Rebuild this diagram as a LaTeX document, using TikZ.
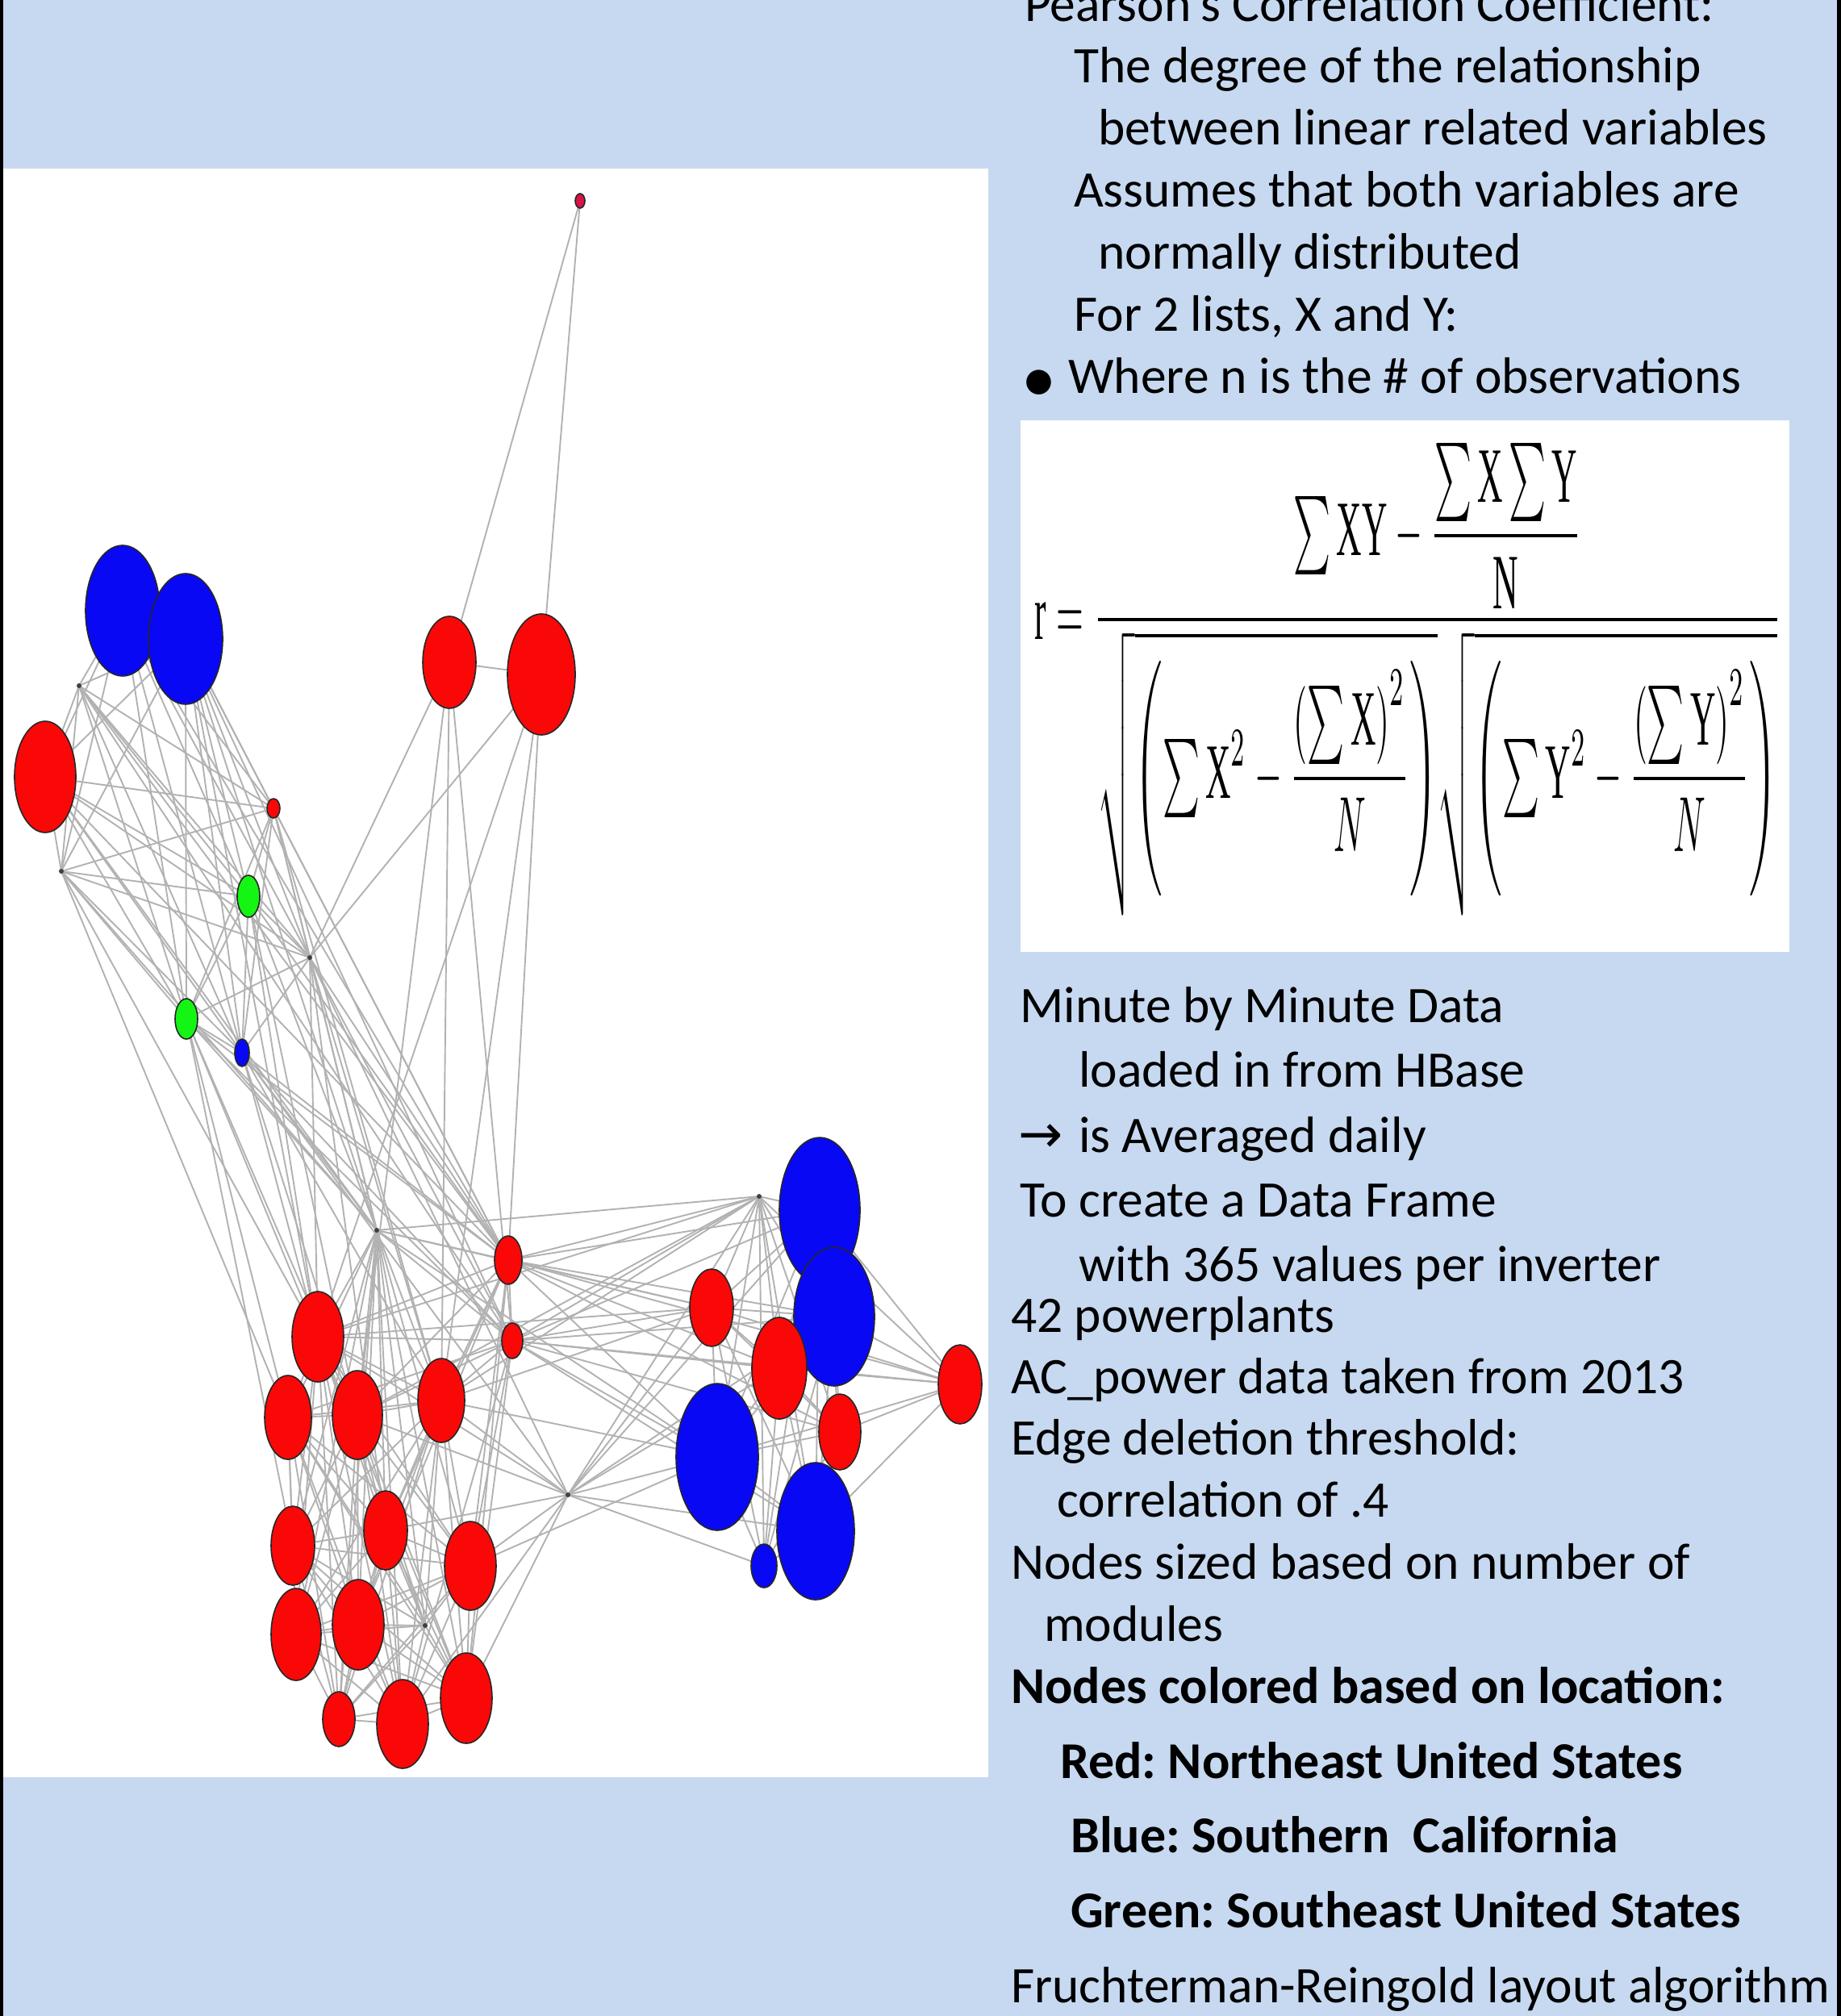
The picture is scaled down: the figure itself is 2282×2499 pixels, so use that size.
\documentclass[tikz,border=0pt]{standalone}
\usepackage{amsmath}
\usepackage{fontspec}
\usepackage{graphicx}
\setmainfont{Carlito}
\newfontfamily\tnr{Liberation Serif}
\newfontfamily\djv{DejaVu Sans}
\usetikzlibrary{shapes.geometric}
\frenchspacing
\definecolor{bgblue}{RGB}{198,217,240}
\definecolor{edgec}{RGB}{178,178,178}
\definecolor{nred}{RGB}{250,8,8}
\definecolor{nblue}{RGB}{8,8,245}
\definecolor{ngreen}{RGB}{20,245,20}
\definecolor{ncrim}{RGB}{215,20,70}
\pgfdeclarelayer{bglayer}
\pgfdeclarelayer{edgelayer}
\pgfsetlayers{bglayer,edgelayer,main}
\tikzset{
  pn/.style={ellipse, draw=black!85, line width=1.6pt, inner sep=0pt},
  rn/.style={pn, fill=nred},
  bn/.style={pn, fill=nblue},
  gn/.style={pn, fill=ngreen},
  dotn/.style={circle, fill=black!75, inner sep=0pt, minimum size=6pt},
  edge/.style={draw=edgec, line width=1.9pt},
  txt/.style={anchor=base west, inner sep=0pt, font=\fontsize{63.5pt}{63.5pt}\selectfont},
  btxt/.style={txt, font=\fontsize{64pt}{64pt}\selectfont\bfseries},
}
\newcommand\ellnode[6]{\node[#1, minimum width=#5pt, minimum height=#6pt] (#2) at (#3,#4) {};}
\newcommand\allpairs[1]{%
  \foreach \a [count=\i] in {#1}{%
    \foreach \b [count=\j] in {#1}{%
      \ifnum\i<\j \draw[edge] (\a.center) -- (\b.center);\fi
    }%
  }%
}
\begin{document}
\begin{tikzpicture}[x=1pt,y=-1pt]
\useasboundingbox (0,0) rectangle (2282,2499);
\begin{pgfonlayer}{bglayer}
  \fill[bgblue] (0,0) rectangle (2282,2499);
  \fill[black] (0,0) rectangle (4,2499);
  \fill[black] (2277,0) rectangle (2282,2499);
  \fill[white] (4,209) rectangle (1225,2203);
  \fill[white] (1265,521) rectangle (2218,1180);
\end{pgfonlayer}

% ---------- graph nodes ----------
\ellnode{pn, fill=ncrim}{t}{719}{249}{12}{18}
\ellnode{bn}{b1}{152}{757}{92}{162}
\ellnode{bn}{b2}{230}{792}{92}{162}
\ellnode{rn}{r1}{56}{963}{76}{138}
\ellnode{rn}{r2}{557}{821}{66}{114}
\ellnode{rn}{r3}{671}{836}{84}{150}
\ellnode{rn}{r4}{339}{1002}{16}{24}
\ellnode{gn}{g1}{308}{1111}{28}{52}
\ellnode{gn}{g2}{231}{1263}{28}{50}
\ellnode{bn}{b3}{300}{1305}{18}{34}
\node[dotn] (d1) at (98,850) {};
\node[dotn] (d2) at (76,1080) {};
\node[dotn] (d3) at (384,1187) {};
\node[dotn] (d4) at (467,1525) {};
\node[dotn] (d5) at (704,1853) {};
\node[dotn] (d6) at (941,1483) {};
\node[dotn] (d7) at (527,2015) {};
\ellnode{rn}{m1}{630}{1562}{34}{60}
\ellnode{rn}{m2}{635}{1662}{26}{44}
% bottom cluster
\ellnode{rn}{c1}{394}{1657}{64}{112}
\ellnode{rn}{c2}{357}{1757}{58}{104}
\ellnode{rn}{c3}{443}{1754}{62}{110}
\ellnode{rn}{c4}{547}{1736}{58}{104}
\ellnode{rn}{c5}{363}{1916}{54}{98}
\ellnode{rn}{c6}{478}{1897}{54}{98}
\ellnode{rn}{c7}{583}{1941}{64}{110}
\ellnode{rn}{c8}{367}{2026}{62}{114}
\ellnode{rn}{c9}{444}{2014}{64}{112}
\ellnode{rn}{c10}{420}{2131}{40}{68}
\ellnode{rn}{c11}{499}{2137}{64}{110}
\ellnode{rn}{c12}{578}{2105}{64}{112}
% right cluster
\ellnode{bn}{e1}{1016}{1500}{100}{180}
\ellnode{bn}{e2}{1034}{1632}{100}{172}
\ellnode{rn}{e3}{882}{1621}{54}{96}
\ellnode{rn}{e4}{966}{1696}{68}{126}
\ellnode{rn}{e5}{1041}{1775}{52}{94}
\ellnode{bn}{e6}{889}{1806}{102}{182}
\ellnode{bn}{e7}{1011}{1898}{96}{170}
\ellnode{bn}{e8}{947}{1941}{32}{54}
\ellnode{rn}{e9}{1190}{1716}{54}{98}

% ---------- edges ----------
\begin{pgfonlayer}{edgelayer}
  \allpairs{b1,b2,r1,r4,g1,g2,b3,d1,d2,d3}
  \allpairs{c1,c2,c3,c4,c5,c6,c7,c8,c9,c10,c11,c12,d4,d7}
  \allpairs{d6,e1,e2,e3,e4,e5,e6,e7,e8}
  \foreach \a/\b in {t/r2,t/r3,r2/r3,r2/d3,r2/c3,r2/c4,r2/m2,r3/d3,r3/m1,r3/c4,r3/c1,
    g2/c1,g2/c2,g2/d4,g2/m1,g2/c3,g2/m2,g2/c5,
    b3/c1,b3/d4,b3/m1,b3/m2,b3/c3,b3/c4,b3/d5,
    d3/d4,d3/m1,d3/m2,d3/c1,d3/c4,d3/d5,d3/c6,
    g1/d4,g1/m1,g1/c1,g1/c3,d2/c1,d2/c2,d2/d4,
    r4/d4,r4/m1,r4/c4,b2/m1,b2/d4,b2/m2,b1/m1,r1/m1,r1/d4,d1/m1,d1/m2,b2/c1,
    m1/m2,m1/d4,m2/d4,
    m1/c1,m1/c3,m1/c4,m1/c6,m1/c7,m1/c9,m1/c12,
    m2/c1,m2/c2,m2/c3,m2/c4,m2/c7,m2/c12,m2/c11,
    d5/c4,d5/c7,d5/c12,d5/c6,d5/c3,d5/c1,d5/c11,
    d5/e1,d5/e2,d5/e3,d5/e4,d5/e6,d5/e7,d5/e8,d5/d6,
    m1/d6,m1/e1,m1/e2,m1/e3,m1/e4,m1/e5,m1/e6,m1/e9,
    m2/d6,m2/e1,m2/e2,m2/e3,m2/e4,m2/e5,m2/e6,m2/e7,m2/e9,
    d6/c4,d6/c1,d6/d4,d6/c3,
    e9/e1,e9/e2,e9/e3,e9/e4,e9/e5,e9/e6,e9/e7,e9/d6,
    d4/e3,d4/e6,c4/e3,c4/e6,c7/e6,c1/e3}
    {\draw[edge] (\a.center) -- (\b.center);}
\end{pgfonlayer}

% ---------- text, top right ----------
\node[txt] (p0) at (1270,27) {Pearson's Correlation Coefficient:};
\node[txt] (p1) at (1331,103) {The degree of the relationship};
\node[txt] (p2) at (1361,180) {between linear related variables};
\node[txt] (p3) at (1331,257) {Assumes that both variables are};
\node[txt] (p4) at (1361,333) {normally distributed};
\node[txt] (p5) at (1331,410) {For 2 lists, X and Y:};
\node[anchor=base west, inner sep=0pt, font=\djv\fontsize{40pt}{40pt}\selectfont] (bul) at (1270,484) {●};
\node[txt] (p6) at (1324,487) {Where n is the \# of observations};

% ---------- formula ----------
\node[inner sep=0pt] (formula) at (1745.5,842.5) {\resizebox*{925pt}{585pt}{$\displaystyle
  \mbox{\tnr r} = \frac{\sum \mbox{\tnr XY} - \dfrac{\sum\mbox{\tnr X}\sum\mbox{\tnr Y}}{\mbox{\tnr N}}}
  {\sqrt{\left(\sum \mbox{\tnr X}^{2} - \dfrac{\left(\sum \mbox{\tnr X}\right)^{2}}{N}\right)}
   \sqrt{\left(\sum \mbox{\tnr Y}^{2} - \dfrac{\left(\sum\mbox{\tnr Y}\right)^{2}}{N}\right)}}$}};

% ---------- text, lower right ----------
\node[txt] (q1) at (1264,1267) {Minute by Minute Data};
\node[txt] (q2) at (1337,1347) {loaded in from HBase};
\node[anchor=base west, inner sep=0pt, font=\djv\fontsize{66pt}{66pt}\selectfont] (arr) at (1262,1428) {→};
\node[txt] (q3) at (1337,1428) {is Averaged daily};
\node[txt] (q4) at (1264,1508) {To create a Data Frame};
\node[txt] (q5) at (1337,1588) {with 365 values per inverter};
\node[txt] (q6) at (1253,1651) {42 powerplants};
\node[txt] (q7) at (1253,1727) {AC\_power data taken from 2013};
\node[txt] (q8) at (1253,1803) {Edge deletion threshold:};
\node[txt] (q9) at (1310,1880) {correlation of .4};
\node[txt] (q10) at (1253,1957) {Nodes sized based on number of};
\node[txt] (q11) at (1294,2034) {modules};
\node[btxt] (q12) at (1253,2111) {Nodes colored based on location:};
\node[btxt] (q13) at (1314,2204) {Red: Northeast United States};
\node[btxt] (q14) at (1327,2296) {Blue: Southern\ \ California};
\node[btxt] (q15) at (1327,2389) {Green: Southeast United States};
\node[txt] (q16) at (1253,2482) {Fruchterman-Reingold layout algorithm};
\end{tikzpicture}
\end{document}
